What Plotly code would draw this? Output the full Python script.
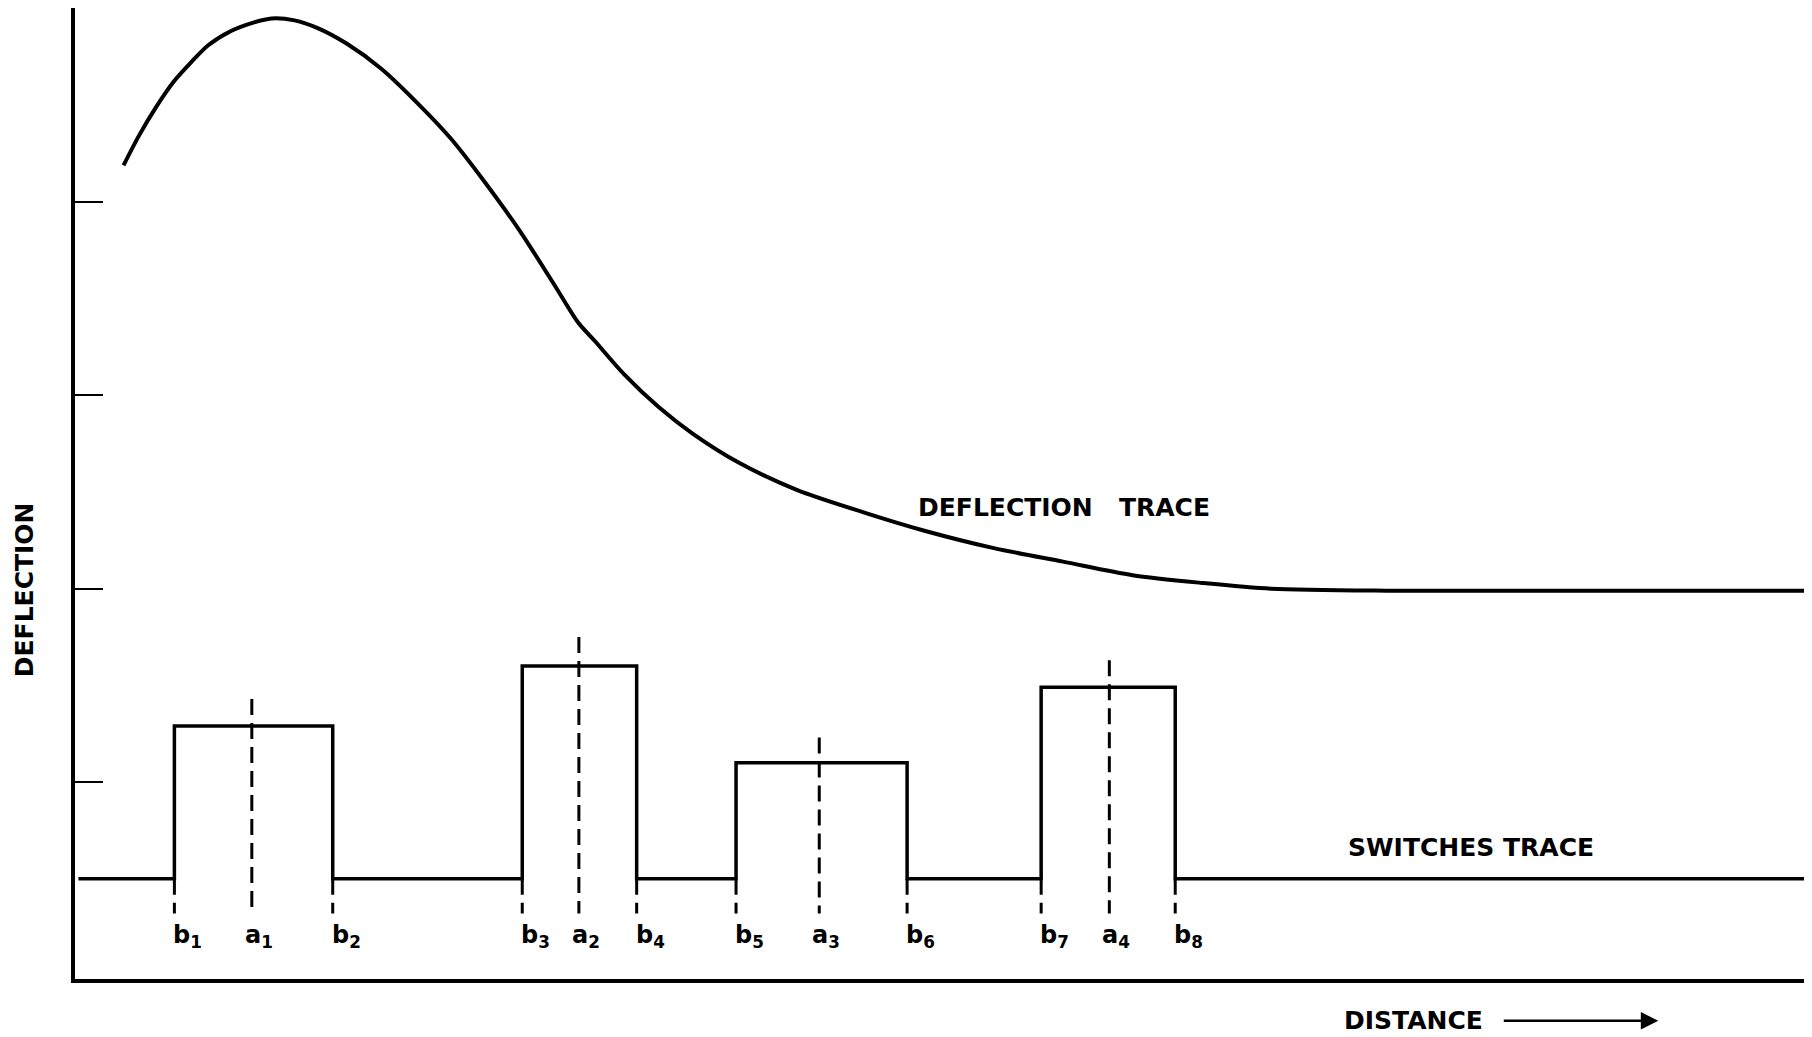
import plotly.graph_objects as go

# ---- data (distance in arbitrary units, deflection in tick units) ----
distance = [4.2, 5.5, 7.0, 8.5, 10.0, 11.5, 13.5, 15.5, 17.0, 19.0, 21.0, 23.5, 26.5,
            29.5, 32.5, 35.5, 38.5, 41.5, 43.5, 45.0, 47.5, 50.5, 53.5, 57.5, 62.5,
            68.5, 73.5, 79.5, 85.5, 91.5, 97.5, 103.5, 113.5, 133.5, 150.0]
deflection = [4.19, 4.34, 4.49, 4.62, 4.72, 4.81, 4.885, 4.93, 4.95, 4.94, 4.90, 4.82, 4.69,
              4.52, 4.33, 4.10, 3.85, 3.57, 3.38, 3.28, 3.11, 2.94, 2.80, 2.65, 2.51,
              2.39, 2.30, 2.21, 2.14, 2.07, 2.03, 2.00, 1.99, 1.99, 1.99]

switch_base = 0.50
switch_start = 0.3
switch_end = 150.3
b_edges = [8.6, 22.3, 38.7, 48.6, 57.2, 72.0, 83.6, 95.2]
b_names = ["1", "2", "3", "4", "5", "6", "7", "8"]
pulse_tops = [1.29, 1.60, 1.10, 1.49]
a_centres = [15.3, 43.6, 64.4, 89.5]
a_names = ["1", "2", "3", "4"]
a_marker_tops = [1.43, 1.75, 1.23, 1.63]
marker_bottom = 0.32
label_level = 0.20
y_ticks = [1, 2, 3, 4]

FONT = "DejaVu Sans"
fig = go.Figure()

# deflection trace
fig.add_trace(go.Scatter(x=distance, y=deflection, mode="lines",
                         line=dict(color="black", width=4, shape="spline", smoothing=0.8),
                         hoverinfo="skip"))

# switches trace
sx, sy = [switch_start], [switch_base]
for i, top in enumerate(pulse_tops):
    b0, b1 = b_edges[2 * i], b_edges[2 * i + 1]
    sx += [b0, b0, b1, b1]
    sy += [switch_base, top, top, switch_base]
sx.append(switch_end)
sy.append(switch_base)
fig.add_trace(go.Scatter(x=sx, y=sy, mode="lines",
                         line=dict(color="black", width=3.5), hoverinfo="skip"))

# dashed markers for a
for a, top in zip(a_centres, a_marker_tops):
    fig.add_trace(go.Scatter(x=[a, a], y=[top, marker_bottom], mode="lines",
                             line=dict(color="black", width=3, dash="16px,8px"),
                             hoverinfo="skip"))
# dashed extensions for b
for b in b_edges:
    fig.add_trace(go.Scatter(x=[b, b], y=[switch_base, marker_bottom], mode="lines",
                             line=dict(color="black", width=3, dash="16px,8px"),
                             hoverinfo="skip"))

lab_font = dict(family=FONT, size=24, color="black", weight="bold")
ann = []
for b, n in zip(b_edges, b_names):
    ann.append(dict(x=b, y=label_level, xref="x", yref="y", text=f"b<sub>{n}</sub>",
                    showarrow=False, xanchor="left", xshift=-3, font=lab_font))
for a, n in zip(a_centres, a_names):
    ann.append(dict(x=a, y=label_level, xref="x", yref="y", text=f"a<sub>{n}</sub>",
                    showarrow=False, xanchor="left", xshift=-9, font=lab_font))

txt_font = dict(family=FONT, size=25, color="black", weight="bold")
ann.append(dict(x=85.6, y=2.42, xref="x", yref="y", text="DEFLECTION   TRACE",
                showarrow=False, font=txt_font))
ann.append(dict(x=120.8, y=0.66, xref="x", yref="y", text="SWITCHES TRACE",
                showarrow=False, font=txt_font))
ann.append(dict(x=115.8, y=-0.043, xref="x", yref="paper", text="DISTANCE",
                xanchor="center", yanchor="middle", showarrow=False, font=txt_font))
ann.append(dict(x=137.0, y=-0.043, ax=123.5, ay=0, xref="x", yref="paper",
                axref="x", ayref="pixel", text="", showarrow=True, arrowhead=2,
                arrowsize=1.4, arrowwidth=2.5, arrowcolor="black"))
ann.append(dict(x=-0.029, y=0.401, xref="paper", yref="paper", text="DEFLECTION",
                xanchor="center", yanchor="middle", textangle=-90, showarrow=False,
                font=txt_font))

fig.update_layout(
    width=1804, height=1029,
    margin=dict(l=67, r=0, t=0, b=58),
    paper_bgcolor="white", plot_bgcolor="white",
    showlegend=False,
    annotations=ann,
    xaxis=dict(range=[0, 150.3], showgrid=False, zeroline=False, showline=True,
               linecolor="black", linewidth=4, showticklabels=False, ticks=""),
    yaxis=dict(range=[-0.019, 5.004], showgrid=False, zeroline=False, showline=True,
               linecolor="black", linewidth=4, tickvals=y_ticks, ticks="inside",
               ticklen=28, tickwidth=2, tickcolor="black", showticklabels=False),
)

fig.write_html("out.html")
